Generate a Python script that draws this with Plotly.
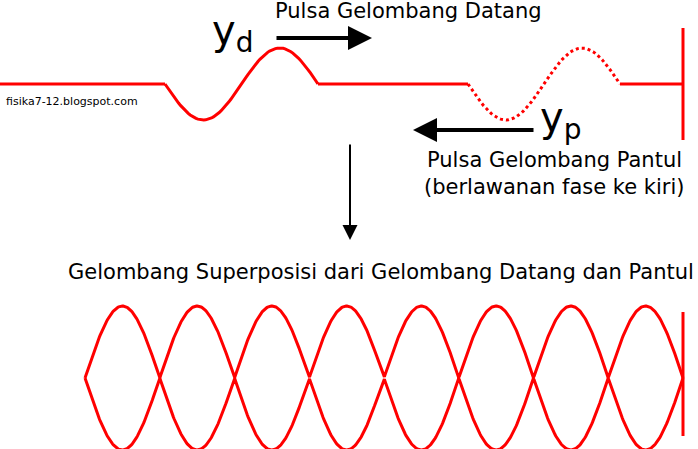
import numpy as np
import plotly.graph_objects as go

# diagram parameters (pixel coordinates)
baseline_y = 84
incident_pulse = [165, 318]   # start/end x of incident pulse
reflected_pulse = [468, 620]  # start/end x of reflected pulse (dashed)
pulse_amp = 36
wall_x = 683
standing_nodes_x = [85, 683]
standing_lobes = 8
standing_center = 378
standing_amp = 72

red = "#ff0000"
fig = go.Figure()

def pulse(x0, x1, n=80):
    t = np.linspace(0, 1, n)
    x = x0 + (x1 - x0) * t
    y = baseline_y + pulse_amp * np.sin(2 * np.pi * t)
    return x, y

lw = 3
fig.add_trace(go.Scatter(x=[0, incident_pulse[0]], y=[baseline_y]*2, mode="lines", line=dict(color=red, width=lw)))
x, y = pulse(*incident_pulse)
fig.add_trace(go.Scatter(x=x, y=y, mode="lines", line=dict(color=red, width=lw)))
fig.add_trace(go.Scatter(x=[incident_pulse[1], reflected_pulse[0]], y=[baseline_y]*2, mode="lines", line=dict(color=red, width=lw)))
x, y = pulse(*reflected_pulse)
fig.add_trace(go.Scatter(x=x, y=y, mode="lines", line=dict(color=red, width=lw, dash="dot")))
fig.add_trace(go.Scatter(x=[reflected_pulse[1], wall_x], y=[baseline_y]*2, mode="lines", line=dict(color=red, width=lw)))
fig.add_trace(go.Scatter(x=[wall_x, wall_x], y=[28, 140], mode="lines", line=dict(color=red, width=lw)))

t = np.linspace(0, 1, 800)
xs = standing_nodes_x[0] + (standing_nodes_x[1] - standing_nodes_x[0]) * t
env = standing_amp * np.abs(np.sin(np.pi * standing_lobes * t))
fig.add_trace(go.Scatter(x=xs, y=standing_center - env, mode="lines", line=dict(color=red, width=lw)))
fig.add_trace(go.Scatter(x=xs, y=standing_center + env, mode="lines", line=dict(color=red, width=lw)))
fig.add_trace(go.Scatter(x=[wall_x, wall_x], y=[312, 436], mode="lines", line=dict(color=red, width=lw)))

def arrow(x0, y0, x1, y1, w, hs):
    fig.add_annotation(x=x1, y=y1, ax=x0, ay=y0, xref="x", yref="y", axref="x", ayref="y",
                       text="", showarrow=True, arrowhead=2, arrowsize=hs, arrowwidth=w, arrowcolor="black")

arrow(275, 38, 372, 38, 4, 1.2)
arrow(535, 130, 413, 130, 4, 1.2)
arrow(350, 143, 350, 240, 2, 1.5)

F = "DejaVu Sans"
def txt(x, y, s, size, anchor="center"):
    fig.add_annotation(x=x, y=y, text=s, showarrow=False, xanchor=anchor, yanchor="middle",
                       font=dict(family=F, size=size, color="black"))

txt(232, 33, "y<sub>d</sub>", 40)
txt(408, 11, "Pulsa Gelombang Datang", 21)
txt(560, 120, "y<sub>p</sub>", 40)
txt(554, 160, "Pulsa Gelombang Pantul", 21)
txt(554, 187, "(berlawanan fase ke kiri)", 21)
txt(4, 101, "fisika7-12.blogspot.com", 11, "left")
txt(381, 272, "Gelombang Superposisi dari Gelombang Datang dan Pantul", 21)

fig.update_layout(width=698, height=449, margin=dict(l=0, r=0, t=0, b=0),
                  plot_bgcolor="white", paper_bgcolor="white", showlegend=False,
                  xaxis=dict(range=[0, 698], visible=False, fixedrange=True),
                  yaxis=dict(range=[449, 0], visible=False, fixedrange=True))
fig.write_html("out.html", config={"displayModeBar": False},
               post_script="document.body.style.margin='0';document.body.style.overflow='hidden';")
